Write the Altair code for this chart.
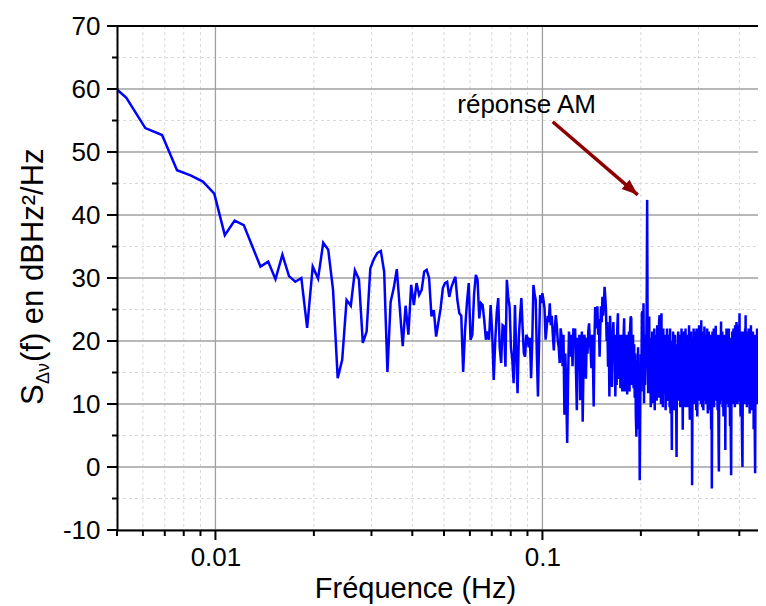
import altair as alt
import pandas as pd

FONT = "Liberation Sans"

# ---------------- data ----------------
DF = 0.000763   # frequency resolution (Hz)
N0 = 6          # index of the first sample

seg_a = [61.7, 58.6, 53.8, 52.7, 47.1, 46.3, 45.3, 43.4, 36.8, 39.1,
         38.4, 35.0, 31.8, 32.6, 29.8, 33.7, 30.3, 29.4, 30.0, 22.1,
         31.8, 29.9, 35.6, 34.5, 28.1, 14.1, 17.0, 26.5, 25.6, 31.2,
         29.8, 19.7, 21.5, 31.5, 33.0, 34.0, 34.3, 31.0, 15.1, 26.2,
         28.4, 31.4, 25.2, 19.2, 25.6, 21.0, 28.9, 25.7, 29.2, 27.3,
         28.1, 31.0, 31.3]

seg_b = [30.0, 23.9, 24.9, 20.7, 23.0, 25.2, 28.4, 29.2, 29.4, 27.0,
         28.5, 29.4, 30.2, 26.5, 24.4, 24.0, 15.1, 21.7, 26.0, 29.2,
         20.2, 21.0, 27.5, 30.5, 29.7, 23.6, 26.0, 25.7, 23.3, 20.2,
         21.5, 20.2, 25.7, 21.3, 13.8, 20.0, 24.5, 26.8, 19.0, 16.5,
         22.5, 22.3, 15.9, 29.7, 27.0, 25.4, 19.0, 17.0, 13.3, 25.7,
         18.0, 11.7, 20.7, 24.0, 26.8, 22.0, 18.0, 17.5, 21.0, 20.5,
         19.0, 20.5, 14.1, 20.0, 28.9, 27.5, 26.5, 18.0, 11.2, 20.0,
         27.3, 26.0, 27.6, 26.5, 25.2, 20.2, 22.0, 24.0, 23.0]

seg_c = [26.0, 22.5, 24.0, 21.0, 18.5, 22.0, 24.1, 22.5, 20.0, 19.0,
         16.5, 22.0, 20.7, 16.0, 21.0, 8.3, 18.0, 12.0, 3.8, 14.0,
         21.5, 20.0, 17.5, 21.0, 16.0, 22.0, 19.5, 22.0, 15.0, 9.0,
         20.5, 17.0, 21.0, 10.6, 18.0, 21.5, 7.2, 16.0, 21.0, 19.9,
         14.0, 20.5, 18.0, 21.5, 22.8, 20.0, 18.5, 15.7, 21.0, 17.0,
         9.6, 20.0, 25.4, 22.0, 24.0, 25.5, 21.0, 23.5, 17.5, 22.0,
         25.5, 23.0, 27.0, 24.0, 26.0, 28.6, 27.0, 25.0, 20.0, 23.0,
         15.9, 22.0, 11.2, 24.0, 21.0, 18.0, 12.7, 20.0, 23.0, 17.5,
         21.0, 11.2, 20.5, 13.0, 22.0, 24.4, 14.0, 14.6, 21.0, 12.5,
         13.8, 21.0, 12.0, 13.3, 20.5, 23.6, 12.0, 19.0, 12.5, 21.0,
         11.5, 20.0, 13.0, 21.5, 12.0, 22.0, 23.9, 23.6, 13.0, 20.5,
         21.0, 12.5, 19.5, 11.0, 18.0, 8.0, 4.8, 17.0, 10.0, 19.0,
         6.0, 16.0, -2.1, 10.0, 17.9, 12.0, 24.4, 24.7, 15.0, 26.0,
         10.1, 20.0, 13.0, 21.0, 16.0]

seg_d = [25.0, 42.4, 17.0, 11.7, 21.0, 23.9, 12.0, 20.5, 9.5, 19.0,
         11.0, 21.5, 10.1, 20.0, 12.5, 22.0, 9.0, 19.5, 12.2, 21.0,
         10.5, 22.5, 13.0, 20.0, 11.0, 23.0, 24.1, 12.5, 21.5, 10.0,
         24.4, 13.0, 20.5, 9.5, 22.0, 11.5, 19.5, 13.0, 21.0, 9.0,
         20.5, 12.0, 22.0, 10.5, 11.7, 21.0, 12.5, 19.5, 9.5, 22.0,
         8.5, 20.0, 12.0, 2.7, 19.0, 11.0, 21.5, 10.0, 20.0, 9.0,
         21.0, 12.5, 19.5, 10.0, 1.6, 18.5, 11.0, 20.5, 21.5, 10.5,
         20.0, 12.0, 21.0, 9.5, 19.5, 11.5, 22.0, 10.0, 18.5, 5.9,
         20.0, 11.0, 21.5, 12.5, 19.0, 9.5, 22.0, 11.0, 20.5, 12.0,
         9.5, 21.0, 11.5, 20.0, 10.0, 22.5, 12.0, 7.5, 20.0, 11.0,
         21.5, 9.5, 19.5, -2.9, 12.0, 20.5, 10.5, 22.0, 11.5, 19.0,
         10.0, 21.5, 12.5, 20.0, 9.0, 22.0, 11.0, 8.0, 21.0, 12.0,
         20.0, 10.5, 22.5, 11.5, 19.5, 12.5, 21.0, 10.0, 23.3, 11.0,
         20.5, 9.5, 21.5, 12.0, 9.0, 20.0, 11.5, 22.3, 10.5, 19.5,
         12.0, 21.0, 10.0, 20.5, 11.5, 22.0, 12.5, 8.5, 20.0, 11.0,
         21.5, 10.5, 19.5, 12.0, 9.0, 21.0, 11.0, 6.0, 20.0, -3.4,
         11.0, 21.5, 10.0, 20.0, 12.5, 22.0, 9.5, 19.5, 10.5, 21.0,
         12.0, 22.4, 10.5, 20.0, 11.5, 21.0, 12.0, 9.0, 20.5, 11.0,
         4.0, -0.7, 12.0, 21.0, 10.0, 20.5, 12.5, 19.0, 23.1, 10.5,
         20.5, 11.0, 21.5, 9.5, 20.0, 12.0, 8.0, 21.0, 11.5, 19.5,
         10.0, 21.0, 2.7, 12.5, 20.5, 11.0, 22.0, 10.0, 19.5, 12.0,
         21.5, 10.5, 20.0, 9.5, 22.0, 11.0, 19.0, 12.5, 6.5, 20.5,
         11.0, 3.0, -1.3, 12.0, 20.0, 10.5, 21.5, 11.5, 19.5, 12.5,
         22.0, 10.0, 20.5, 11.5, 21.0, 9.5, 22.5, 10.0, 20.0, 12.0,
         21.5, 23.0, 11.0, 20.0, 12.5, 10.0, 21.5, 11.0, 19.5, 22.5,
         10.5, 20.0, 24.4, 12.0, 21.0, 11.0, 8.0, 20.5, 10.5, 21.5,
         11.5, 6.0, 2.5, 0.0, 11.0, 20.0, 10.5, 21.5, 12.0, 20.0,
         10.0, 21.5, 12.5, 22.0, 11.0, 24.1, 10.5, 20.5, 12.0, 21.0,
         9.5, 20.0, 11.5, 21.5, 10.0, 19.5, 12.0, 22.0, 11.0, 20.5,
         12.5, 8.5, 21.0, 10.5, 20.0, 11.5, 22.5, 10.0, 19.5, 9.0,
         21.0, 11.0, 20.5, 12.0, 21.5, 10.5, 19.0, 6.0, 20.0, 11.5,
         21.0, 10.0, 3.0, -1.0, 9.0, 20.5, 11.5, 21.0, 10.0, 19.5,
         12.0, 22.0, 10.5, 20.0, 11.0, 21.5, 12.5, 22.0, 10.0, 20.0,
         11.5, 21.0, 9.5, 20.5, 8.0, 21.5, 12.0, 5.9, 19.0, 11.0,
         21.0, 10.5, 20.0, 12.0, 22.0, 10.0, 20.5, 11.5, 21.0, 12.0,
         4.0, 11.0, 20.5, 10.0, 21.5, 12.5, 19.5, 11.0, 20.0, 16.0]

x_major = [0.01, 0.1]
x_minor = [0.005, 0.006, 0.007, 0.008, 0.009, 0.02, 0.03, 0.04, 0.05,
           0.06, 0.07, 0.08, 0.09, 0.2, 0.3, 0.4]
y_major = [-10, 0, 10, 20, 30, 40, 50, 60, 70]
y_minor = [-5, 5, 15, 25, 35, 45, 55, 65]

ann_text = ["réponse AM"]
ann_f = [0.0549]
ann_v = [56.2]
arrow_f = [0.1075, 0.1956]
arrow_v = [54.8, 43.2]

# ---------------- tables ----------------
vals = seg_a + seg_b + seg_c + seg_d
freq = [(N0 + i) * DF for i in range(len(vals))]
df = pd.DataFrame({"f": freq, "s": vals})
ann_df = pd.DataFrame({"f": ann_f, "s": ann_v, "t": ann_text})
arrow_df = pd.DataFrame({"f": [arrow_f[0]], "s": [arrow_v[0]],
                         "f2": [arrow_f[1]], "s2": [arrow_v[1]]})
head_df = pd.DataFrame({"f": [arrow_f[1]], "s": [arrow_v[1]]})
xmaj_df = pd.DataFrame({"f": x_major})
xmin_df = pd.DataFrame({"f": x_minor})
ymaj_df = pd.DataFrame({"s": y_major})
ymin_df = pd.DataFrame({"s": y_minor})

W, H = 641, 504
DECADE = 327.0
xscale = alt.Scale(type="log", domain=[0.005, 0.005 * 10 ** (W / DECADE)], nice=False)
yscale = alt.Scale(domain=[-10, 70], nice=False, zero=False)

xaxis = alt.Axis(
    values=x_major,
    labelExpr="datum.value < 0.05 ? '0.01' : '0.1'",
    ticks=False, grid=False, zindex=1,
    domainColor="black", domainWidth=2,
    labelFont=FONT, labelFontSize=26, labelColor="black", labelPadding=14,
    labelFlush=False, labelOverlap=False,
    title="Fréquence (Hz)", titleFont=FONT, titleFontSize=29,
    titleFontWeight="normal", titleColor="black",
    titleX=298, titleY=67, titleBaseline="alphabetic", titleAlign="center",
)

yaxis = alt.Axis(
    values=y_major,
    labelExpr="'' + datum.value",
    ticks=False, grid=False, zindex=1,
    domainColor="black", domainWidth=2,
    labelFont=FONT, labelFontSize=26, labelColor="black", labelPadding=17,
    labelOverlap=False, labelFlush=False,
    title="",
)

X = alt.X("f:Q", scale=xscale, axis=xaxis)
Y = alt.Y("s:Q", scale=yscale, axis=yaxis)

# grid lines (drawn from the tick arrays through the scales)
xg_min = alt.Chart(xmin_df).mark_rule(color="#d9d9d9", strokeWidth=1, strokeDash=[3, 3]).encode(
    x=X, y=alt.value(0), y2=alt.value(H))
yg_min = alt.Chart(ymin_df).mark_rule(color="#d9d9d9", strokeWidth=1, strokeDash=[3, 3]).encode(
    y=Y, x=alt.value(0), x2=alt.value(W))
xg_maj = alt.Chart(xmaj_df).mark_rule(color="#a0a0a0", strokeWidth=1.3).encode(
    x=X, y=alt.value(0), y2=alt.value(H))
yg_maj = alt.Chart(ymaj_df).mark_rule(color="#a0a0a0", strokeWidth=1.3).encode(
    y=Y, x=alt.value(0), x2=alt.value(W))

# tick marks
xt_maj = alt.Chart(xmaj_df).mark_rule(color="black", strokeWidth=2).encode(
    x=X, y=alt.value(H), y2=alt.value(H + 10))
xt_min = alt.Chart(xmin_df).mark_rule(color="black", strokeWidth=2).encode(
    x=X, y=alt.value(H), y2=alt.value(H + 6))
yt_maj = alt.Chart(ymaj_df).mark_rule(color="black", strokeWidth=2).encode(
    y=Y, x=alt.value(0), x2=alt.value(-10))
yt_min = alt.Chart(ymin_df).mark_rule(color="black", strokeWidth=2).encode(
    y=Y, x=alt.value(0), x2=alt.value(-5))

line = alt.Chart(df).mark_line(color="#0000FF", strokeWidth=2.5, clip=True).encode(x=X, y=Y)

top_border = alt.Chart(pd.DataFrame({"a": [0]})).mark_rule(
    color="black", strokeWidth=2).encode(
    x=alt.value(0), x2=alt.value(W), y=alt.value(0))

ann = alt.Chart(ann_df).mark_text(
    align="left", baseline="alphabetic", font=FONT, fontSize=26, color="black"
).encode(x=X, y=Y, text="t:N")

arrow = alt.Chart(arrow_df).mark_rule(color="#8B0000", strokeWidth=3.5).encode(
    x=X, y=Y, x2="f2:Q", y2="s2:Q")

head = alt.Chart(head_df).mark_point(
    shape="M0,0 L-2,-0.75 L-2,0.75 Z", filled=True, size=256, angle=40.8,
    color="#8B0000", opacity=1, strokeWidth=0,
).encode(x=X, y=Y)


def ytitle_part(txt, xpix, ypix, size):
    return alt.Chart(pd.DataFrame({"t": [txt]})).mark_text(
        angle=270, align="left", baseline="alphabetic",
        font=FONT, fontSize=size, color="black",
    ).encode(x=alt.value(xpix), y=alt.value(ypix), text="t:N")


yt1 = ytitle_part("S", -74, 379, 31)
yt2 = ytitle_part("Δν", -68, 358, 18)
yt3 = ytitle_part("(f) en dBHz²/Hz", -74, 336, 31)

chart = alt.layer(
    xg_min, yg_min, xg_maj, yg_maj, line, xt_maj, xt_min, yt_maj, yt_min,
    top_border, arrow, head, ann, yt1, yt2, yt3,
).properties(
    width=W, height=H,
    autosize=alt.AutoSizeParams(type="none"),
    padding={"left": 109, "top": 18, "right": 0, "bottom": 80},
).configure_view(stroke="transparent").configure(background="white")

chart.save("out.html", embed_options={"renderer": "svg", "actions": False})
